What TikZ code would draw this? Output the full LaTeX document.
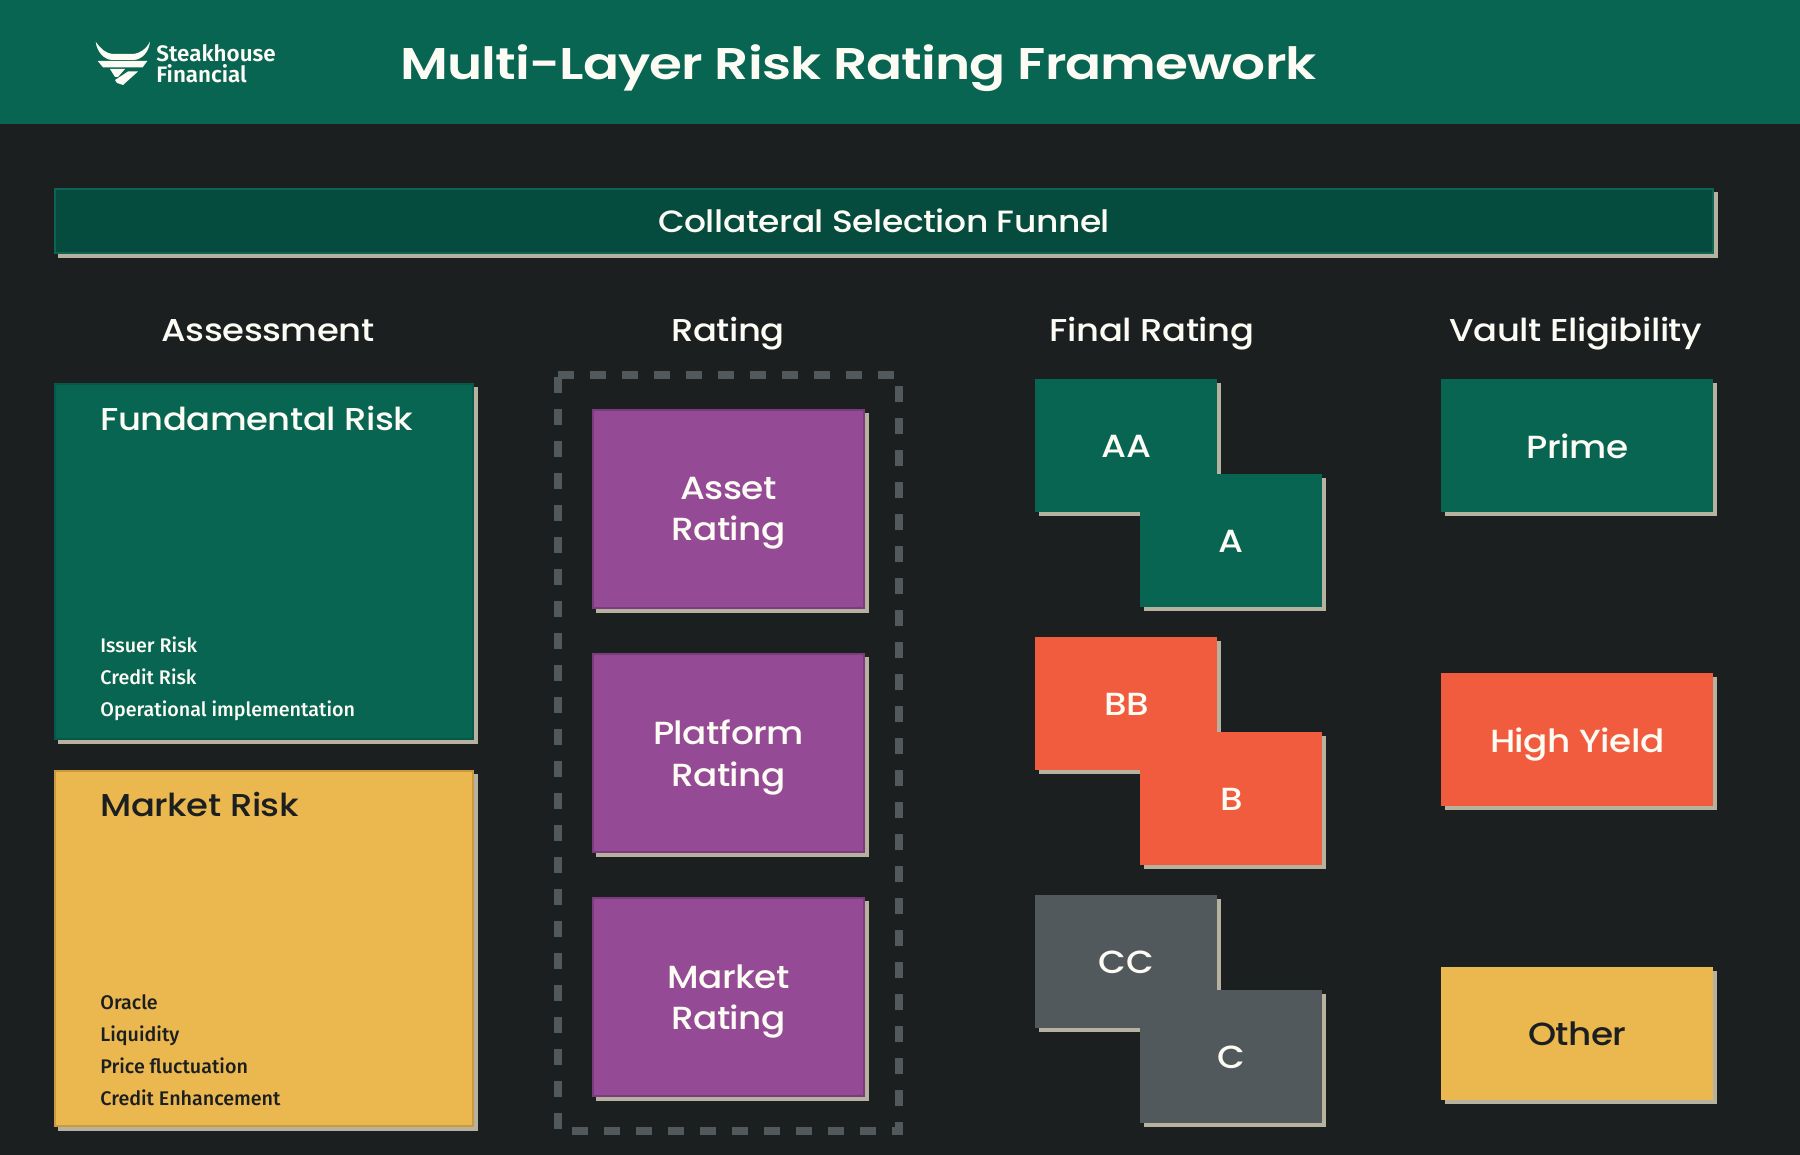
\documentclass[tikz,border=0pt]{standalone}
\usepackage{fontspec}
\setmainfont[FakeStretch=1.12, LetterSpace=-1.5, UprightFont=* Medium]{Poppins}
\newfontfamily\titlefont[FakeStretch=1.2, LetterSpace=-2, UprightFont=* SemiBold]{Poppins}
\newfontfamily\smallfont[UprightFont=* Medium]{Fira Sans}
\newfontfamily\logofont[UprightFont=* SemiBold]{Fira Sans}
\usetikzlibrary{positioning, shadows}
\definecolor{pagedark}{RGB}{27,31,32}
\definecolor{steakgreen}{RGB}{8,101,82}
\definecolor{steakedge}{RGB}{6,88,72}
\definecolor{funneldark}{RGB}{6,76,62}
\definecolor{funneledge}{RGB}{11,101,82}
\definecolor{purplebox}{RGB}{148,74,148}
\definecolor{purpleedge}{RGB}{122,60,125}
\definecolor{orangebox}{RGB}{242,92,62}
\definecolor{yellowbox}{RGB}{235,183,79}
\definecolor{yellowedge}{RGB}{204,154,62}
\definecolor{greybox}{RGB}{82,89,92}
\definecolor{shadowtan}{RGB}{183,178,160}
\definecolor{creamtext}{RGB}{252,251,244}
\definecolor{darktext}{RGB}{27,31,32}

\begin{document}
\begin{tikzpicture}[
  x=0.5pt, y=-0.5pt,
  card/.style={rectangle, anchor=north west, inner sep=0pt, align=center,
              font=\fontsize{16}{20.8}\selectfont, text=creamtext,
              general shadow={shadow xshift=2pt, shadow yshift=-2pt, fill=shadowtan}},
  edgecard/.style={card, line width=1pt,
              general shadow={shadow xshift=2pt, shadow yshift=-2pt, fill=shadowtan, draw=shadowtan, line width=1pt}},
  ratecard/.style={card, minimum width=91pt, minimum height=66.5pt},
  vaultcard/.style={card, minimum width=136pt, minimum height=66.5pt, text depth=0pt},
  purplecard/.style={edgecard, draw=purpleedge, fill=purplebox,
              minimum width=135.5pt, minimum height=99pt, text depth=0pt},
  riskcard/.style={edgecard, minimum width=209pt},
  columnhead/.style={font=\fontsize{15.8}{20}\selectfont, text=creamtext, anchor=base},
  riskhead/.style={font=\fontsize{15.8}{20}\selectfont, anchor=base west, inner sep=0pt},
  risklist/.style={font=\smallfont\fontsize{9.85}{16}\selectfont, anchor=north west,
              align=left, inner sep=0pt}
]
\useasboundingbox (0,0) rectangle (1800,1155);
\fill[pagedark] (0,0) rectangle (1800,1155);
\fill[steakgreen] (0,0) rectangle (1800,124);

% header
\fill[creamtext] (95.7,41.7) .. controls (101,49) and (105,53) .. (113,54) -- (133,54)
  .. controls (141,53) and (146,49) .. (150,41.7) .. controls (149,52) and (142,59.5) .. (134,60)
  -- (112,60) .. controls (104,59.5) and (97,52) .. (95.7,41.7) -- cycle;
\fill[creamtext] (97.7,61) -- (147.3,61) -- (142.7,67.3) -- (103,67.3) -- cycle;
\fill[creamtext] (110,69) -- (125,69) -- (118,77) -- (115,77) -- cycle;
\fill[creamtext] (128,71.5) -- (138,71.5) -- (123,85) -- (117,83) -- (115,80) -- cycle;
\node[font=\logofont\fontsize{11.2}{10.4}\selectfont, text=creamtext, anchor=west,
      align=left, inner sep=0pt] (logotext) at (156,63.5) {Steakhouse\\Financial};
\node[font=\titlefont\fontsize{22.2}{30}\selectfont, text=creamtext, anchor=base west, inner sep=0pt]
      (title) at (400,80) {Multi-Layer Risk Rating Framework};

\node[edgecard, draw=funneledge, fill=funneldark, minimum width=829pt, minimum height=32pt]
      (funnel) at (54,188) {};
\node[font=\fontsize{15.4}{20}\selectfont, text=creamtext] (funneltext) at (funnel.center) {Collateral Selection Funnel};

\node[columnhead] (assess) at (268,342) {Assessment};
\node[columnhead] (rating) at (728,342) {Rating};
\node[columnhead] (final) at (1152,342) {Final Rating};
\node[columnhead] (vault) at (1576,342) {Vault Eligibility};

% assessment column
\node[riskcard, draw=steakedge, fill=steakgreen, minimum height=177.5pt] (fundamental) at (54,383) {};
\node[riskcard, draw=yellowedge, fill=yellowbox, minimum height=177.5pt, below=15pt of fundamental.south west, anchor=north west] (market) {};
\node[riskhead, text=creamtext] (fundhead) at (100,430) {Fundamental Risk};
\node[riskhead, text=darktext] (markethead) at (100,816) {Market Risk};
\node[risklist, text=creamtext] (fundlist) at (100,636) {Issuer Risk\\Credit Risk\\Operational implementation};
\node[risklist, text=darktext] (marketlist) at (100,994) {Oracle\\Liquidity\\Price fluctuation\\Credit Enhancement};

% rating column
\draw[greybox, line width=4pt, dash pattern=on 8pt off 8pt] (558,375) coordinate (frame)
  -- (899,375) -- (899,1131) -- (558,1131) -- cycle;
\node[purplecard] (assetcard) at (592,409) {Asset\\Rating};
\node[purplecard, below=22pt of assetcard.south west, anchor=north west] (platformcard) {Platform\\Rating};
\node[purplecard, below=22pt of platformcard.south west, anchor=north west] (marketcard) {Market\\Rating};

% final rating column
\node[ratecard, fill=steakgreen] (aa) at (1035,379) {AA};
\node[ratecard, fill=steakgreen] (a) at (1140,474) {A};
\node[ratecard, fill=orangebox] (bb) at (1035,637) {BB};
\node[ratecard, fill=orangebox] (b) at (1140,732) {B};
\node[ratecard, fill=greybox] (cc) at (1035,895) {CC};
\node[ratecard, fill=greybox] (c) at (1140,990) {C};

% vault column
\node[vaultcard, fill=steakgreen] (prime) at (1441,379) {Prime};
\node[vaultcard, fill=orangebox] (highyield) at (1441,673) {High Yield};
\node[vaultcard, fill=yellowbox, text=darktext] (other) at (1441,967) {Other};
\end{tikzpicture}
\end{document}
